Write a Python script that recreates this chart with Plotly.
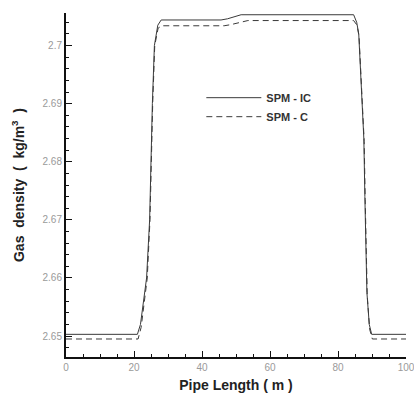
import plotly.graph_objects as go

# SPM - IC (solid)
x_ic = [0, 21.0, 21.9, 23.7, 24.6, 24.9, 25.4, 26.0, 27.0, 28.0, 45.6, 47.5, 49.5, 51.5,
        84.6, 85.5, 86.1, 87.0, 87.6, 87.9, 88.5, 89.2, 89.9, 100]
y_ic = [2.6503, 2.6503, 2.652, 2.660, 2.670, 2.680, 2.690, 2.700, 2.7035, 2.7044, 2.7044, 2.7046, 2.7050, 2.7053,
        2.7053, 2.7040, 2.7020, 2.6920, 2.6840, 2.6740, 2.6575, 2.6520, 2.6503, 2.6503]

# SPM - C (dashed)
x_c = [0, 21.2, 22.1, 23.9, 24.7, 25.0, 25.5, 26.1, 27.1, 28.2, 46.5, 48.5, 51.0, 53.5,
       84.6, 85.6, 86.2, 87.1, 87.7, 88.0, 88.6, 89.3, 90.1, 100]
y_c = [2.6495, 2.6495, 2.6515, 2.660, 2.670, 2.680, 2.690, 2.700, 2.7030, 2.7034, 2.7034, 2.7036, 2.7040, 2.7043,
       2.7043, 2.7035, 2.7015, 2.6915, 2.6835, 2.6735, 2.6570, 2.6512, 2.6495, 2.6495]

x_ticks = [0, 20, 40, 60, 80, 100]
y_ticks = [2.65, 2.66, 2.67, 2.68, 2.69, 2.70]
y_tick_text = ["2.65", "2.66", "2.67", "2.68", "2.69", "2.7"]

NB = "\u00a0"

fig = go.Figure()
fig.add_trace(go.Scatter(x=x_ic, y=y_ic, mode="lines", name="SPM - IC",
                         line=dict(color="#3a3a3a", width=1)))
fig.add_trace(go.Scatter(x=x_c, y=y_c, mode="lines", name="SPM - C",
                         line=dict(color="#3a3a3a", width=1, dash="6px,4px")))

fig.update_layout(
    width=414, height=396,
    margin=dict(l=66, r=8, t=13, b=39),
    paper_bgcolor="white", plot_bgcolor="white",
    font=dict(family="Liberation Sans, Arial, sans-serif"),
    showlegend=True,
    legend=dict(x=0.398, y=0.796, xanchor="left", yanchor="top",
                itemwidth=55,
                bgcolor="rgba(0,0,0,0)", tracegroupgap=0,
                font=dict(size=11, color="#333333", family="Liberation Sans, Arial, sans-serif", weight="bold")),
)

fig.update_xaxes(
    range=[0, 100], tickvals=x_ticks, ticktext=[str(v) for v in x_ticks],
    automargin=False, ticklabeloverflow="allow",
    showgrid=False, zeroline=False, showline=True, linecolor="#111111", linewidth=2,
    ticks="inside", ticklen=6, tickwidth=1, tickcolor="#111111",
    minor=dict(dtick=5, ticks="inside", ticklen=3, tickcolor="#111111", showgrid=False),
    tickfont=dict(size=10, color="#9a9a9a"),
    title=dict(text="Pipe Length ( m )", standoff=8,
               font=dict(size=14, color="#222222", weight="bold")),
)
fig.update_yaxes(
    range=[2.6464, 2.7056], tickvals=y_ticks, ticktext=y_tick_text,
    automargin=False,
    showgrid=False, zeroline=False, showline=True, linecolor="#111111", linewidth=2,
    ticks="inside", ticklen=6, tickwidth=1, tickcolor="#111111",
    minor=dict(tick0=2.65, dtick=0.002, ticks="inside", ticklen=3, tickcolor="#111111", showgrid=False),
    tickfont=dict(size=10, color="#9a9a9a"),
    title=dict(text=f"Gas{NB}{NB}density{NB}{NB}({NB}{NB}kg/m<sup>3</sup>{NB}{NB})", standoff=15,
               font=dict(size=14, color="#222222", weight="bold")),
)

fig.write_html("out.html", config={"displayModeBar": False},
               post_script="document.body.style.margin='0';")
